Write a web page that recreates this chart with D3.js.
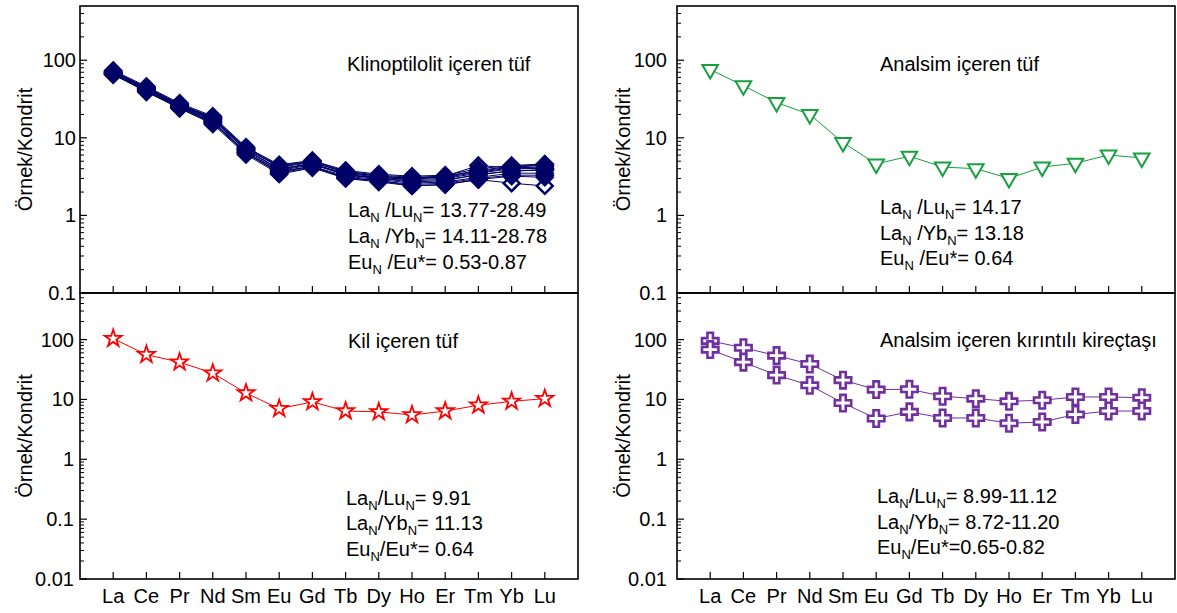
<!DOCTYPE html>
<html>
<head>
<meta charset="utf-8">
<script src="https://cdn.jsdelivr.net/npm/d3@7"></script>
<style>
  body { margin: 0; background: #fff; }
  svg { display: block; font-family: Arial, "Liberation Sans", sans-serif; }
</style>
</head>
<body>
<svg id="chart" width="1177" height="613"></svg>
<script>
// REE elements (x axis)
const elements = ["La", "Ce", "Pr", "Nd", "Sm", "Eu", "Gd", "Tb", "Dy", "Ho", "Er", "Tm", "Yb", "Lu"];
const yTicksTop = [0.1, 1, 10, 100];
const yTicksBottom = [0.01, 0.1, 1, 10, 100];

// Klinoptilolit içeren tüf - filled samples
const klinoFilled = [
  [72, 45, 27, 18.5, 7.4, 4.4, 5.0, 3.7, 3.3, 3.1, 3.2, 3.8, 4.3, 4.5],
  [70, 44, 26.5, 18, 7.2, 4.2, 4.8, 3.6, 3.2, 3.0, 3.1, 3.6, 4.1, 4.2],
  [68, 42, 25.5, 17, 6.9, 4.0, 4.6, 3.5, 3.1, 2.9, 3.0, 3.5, 4.0, 4.0],
  [66, 41, 25, 16.5, 6.6, 3.8, 4.5, 3.4, 3.0, 2.8, 2.9, 3.3, 3.8, 3.8],
  [74, 46, 28, 19, 7.6, 4.5, 5.1, 3.8, 3.4, 3.2, 3.3, 4.0, 4.4, 4.6],
  [65, 40, 24, 15.5, 6.3, 3.6, 4.3, 3.2, 2.9, 2.6, 2.7, 3.1, 3.5, 3.5],
  [69, 43, 26, 17.5, 7.0, 3.9, 4.7, 3.3, 3.0, 2.7, 2.8, 3.4, 3.7, 3.9],
  [67, 40, 24.5, 16, 6.4, 3.5, 4.2, 3.1, 2.8, 2.5, 2.6, 3.0, 3.3, 3.3],
  [71, 44, 27, 18, 7.3, 4.3, 4.9, 3.6, 3.2, 3.0, 3.2, 3.7, 4.2, 4.4],
  [66, 39, 24, 15, 6.1, 3.4, 4.1, 3.0, 2.7, 2.4, 2.5, 2.9, 3.2, 3.1]
];
// Klinoptilolit içeren tüf - open samples
const klinoHollow = [
  [70, 43, 26, 17.5, 6.9, 4.0, 4.6, 3.3, 3.1, 2.9, 3.2, 4.4, 4.1, 4.0],
  [67, 41, 25, 16, 6.5, 3.7, 4.3, 3.0, 2.8, 2.4, 2.5, 2.9, 2.6, 2.4]
];
// Analsim içeren tüf
const analsimTuf = [76, 47, 28.5, 20, 8.7, 4.6, 5.8, 4.2, 4.0, 3.0, 4.2, 4.7, 6.0, 5.5];
// Kil içeren tüf
const kilTuf = [104, 56, 42, 27.5, 12.8, 7.0, 9.1, 6.4, 6.2, 5.5, 6.4, 8.0, 9.3, 10.3];
// Analsim içeren kırıntılı kireçtaşı
const kirectasiUpper = [95, 73, 54, 39, 21, 14.6, 14.8, 11.3, 10.3, 9.3, 9.7, 11, 11, 10.7];
const kirectasiLower = [68, 42, 25.5, 17.2, 8.7, 4.8, 6.2, 4.9, 4.9, 4.0, 4.2, 5.6, 6.4, 6.4];

const panelTitles = ["Klinoptilolit içeren tüf", "Analsim içeren tüf", "Kil içeren tüf", "Analsim içeren kırıntılı kireçtaşı"];
const ratioLuValues = ["= 13.77-28.49", "= 14.17", "= 9.91", "= 8.99-11.12"];
const ratioYbValues = ["= 14.11-28.78", "= 13.18", "= 11.13", "= 8.72-11.20"];
const euValues = ["= 0.53-0.87", "= 0.64", "= 0.64", "=0.65-0.82"];

const svg = d3.select("#chart");

const panels = [
  { x0: 80, x1: 578, y0: 6, y1: 293, dom: [0.1, 500], ticks: yTicksTop, xlab: false, gap: 4, ylabX: 25,
    title: [347, 71], stats: [348, 217, 25.8], slash: " /" },
  { x0: 677, x1: 1175, y0: 6, y1: 293, dom: [0.1, 500], ticks: yTicksTop, xlab: false, gap: 10, ylabX: 623,
    title: [880, 71], stats: [880, 214, 25.6], slash: " /" },
  { x0: 80, x1: 578, y0: 293, y1: 579, dom: [0.01, 600], ticks: yTicksBottom, xlab: true, gap: 6, ylabX: 25,
    title: [348, 348], stats: [346, 505, 25.3], slash: "/" },
  { x0: 677, x1: 1175, y0: 293, y1: 579, dom: [0.01, 600], ticks: yTicksBottom, xlab: true, gap: 10, ylabX: 623,
    title: [880, 347], stats: [877, 503, 25.5], slash: "/" }
];

panels.forEach(function(p, i) {
  p.x = d3.scaleLinear().domain([0, elements.length + 1]).range([p.x0, p.x1]);
  p.y = d3.scaleLog().domain(p.dom).range([p.y1, p.y0]);
  p.g = svg.append("g");
});

function drawAxes(p) {
  const g = p.g;
  // minor ticks
  const minor = [];
  const lo = Math.round(Math.log10(p.dom[0]));
  for (let e = lo; e <= 2; e++) {
    for (let m = 2; m <= 9; m++) {
      const v = m * Math.pow(10, e);
      if (v < p.dom[1]) minor.push(v);
    }
  }
  g.selectAll(".minor").data(minor).enter().append("line")
    .attr("x1", p.x0).attr("x2", p.x0 + 4)
    .attr("y1", d => p.y(d)).attr("y2", d => p.y(d))
    .attr("stroke", "#000").attr("stroke-width", 1);
  g.selectAll(".major").data(p.ticks).enter().append("line")
    .attr("x1", p.x0).attr("x2", p.x0 + 7)
    .attr("y1", d => p.y(d)).attr("y2", d => p.y(d))
    .attr("stroke", "#000").attr("stroke-width", 1.2);
  g.selectAll(".ylab").data(p.ticks).enter().append("text")
    .attr("x", p.x0 - p.gap).attr("y", d => p.y(d))
    .attr("text-anchor", "end").attr("dominant-baseline", "central")
    .style("font-size", "20px")
    .text(d => d3.format("~g")(d));
  // x ticks
  g.selectAll(".xt").data(elements).enter().append("line")
    .attr("x1", (d, i) => p.x(i + 1)).attr("x2", (d, i) => p.x(i + 1))
    .attr("y1", p.y1).attr("y2", p.y1 - 7)
    .attr("stroke", "#000").attr("stroke-width", 1.2);
  if (p.xlab) {
    g.selectAll(".xl").data(elements).enter().append("text")
      .attr("x", (d, i) => p.x(i + 1)).attr("y", 603)
      .attr("text-anchor", "middle")
      .style("font-size", "20px")
      .text(d => d);
  }
  g.append("rect")
    .attr("x", p.x0).attr("y", p.y0)
    .attr("width", p.x1 - p.x0).attr("height", p.y1 - p.y0)
    .attr("fill", "none").attr("stroke", "#000").attr("stroke-width", 1.6);
  g.append("text")
    .attr("transform", "translate(" + p.ylabX + "," + ((p.y0 + p.y1) / 2) + ") rotate(-90)")
    .attr("text-anchor", "middle").attr("dominant-baseline", "central")
    .style("font-size", "20px")
    .text("Örnek/Kondrit");
}

function drawSeries(p, values, color, symbolType, size, fill, sw, rotate) {
  const line = d3.line()
    .x((d, i) => p.x(i + 1))
    .y(d => p.y(d));
  p.g.append("path").datum(values)
    .attr("d", line)
    .attr("fill", "none").attr("stroke", color).attr("stroke-width", 1);
  p.g.append("g").selectAll("path").data(values).enter().append("path")
    .attr("d", d3.symbol().type(symbolType).size(size))
    .attr("transform", (d, i) => "translate(" + p.x(i + 1) + "," + p.y(d) + ")" + (rotate ? " rotate(" + rotate + ")" : ""))
    .attr("fill", fill).attr("stroke", color).attr("stroke-width", sw);
}

function drawTexts(p, i) {
  p.g.append("text").attr("x", p.title[0]).attr("y", p.title[1])
    .style("font-size", "20px").text(panelTitles[i]);
  const rows = [
    [["La"], ["N", 1], [p.slash + "Lu"], ["N", 1], [ratioLuValues[i]]],
    [["La"], ["N", 1], [p.slash + "Yb"], ["N", 1], [ratioYbValues[i]]],
    [["Eu"], ["N", 1], [p.slash + "Eu*"], [euValues[i]]]
  ];
  rows.forEach(function(row, r) {
    const t = p.g.append("text")
      .attr("x", p.stats[0]).attr("y", p.stats[1] + r * p.stats[2])
      .style("font-size", "20px");
    let shifted = false;
    row.forEach(function(part) {
      const ts = t.append("tspan").text(part[0]);
      if (part[1]) {
        ts.attr("dy", 5).style("font-size", "13px");
        shifted = true;
      } else if (shifted) {
        ts.attr("dy", -5);
        shifted = false;
      }
    });
  });
}

panels.forEach(drawAxes);

// Klinoptilolit içeren tüf
const navy = "#000066";
klinoHollow.forEach(s => drawSeries(panels[0], s, navy, d3.symbolDiamond2, 160, "#fff", 2.5));
klinoFilled.forEach(s => drawSeries(panels[0], s, navy, d3.symbolDiamond2, 160, navy, 2.5));

// Analsim içeren tüf
drawSeries(panels[1], analsimTuf, "#16a03e", d3.symbolTriangle, 105, "#fff", 2, 180);

// Kil içeren tüf
drawSeries(panels[2], kilTuf, "#ff0000", d3.symbolStar, 90, "#fff", 1.8);

// Analsim içeren kırıntılı kireçtaşı
drawSeries(panels[3], kirectasiUpper, "#7030a0", d3.symbolCross, 150, "#fff", 2.6);
drawSeries(panels[3], kirectasiLower, "#7030a0", d3.symbolCross, 150, "#fff", 2.6);

panels.forEach(drawTexts);
</script>
</body>
</html>
